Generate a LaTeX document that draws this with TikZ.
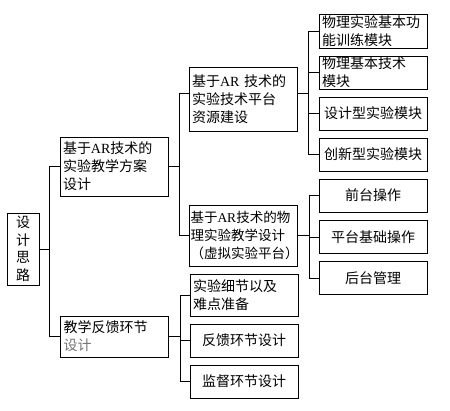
\documentclass[tikz,border=0pt]{standalone}
\usepackage{fontspec}
\setmainfont{Noto Sans CJK SC}
\newfontfamily\latinfont{Liberation Serif}

\begin{document}
\begin{tikzpicture}[x=1pt, y=-1pt,
  box/.style={draw, line width=0.9pt, inner xsep=3pt, inner ysep=0pt,
    text width=102pt, align=left, font=\fontsize{14}{18}\selectfont},
  cbox/.style={box, align=center, minimum height=33pt},
  link/.style={line width=0.9pt}]

  % 画面范围 (按像素坐标, y 向下)
  \useasboundingbox (0,0) rectangle (450,411);

  % 1. 根节点
  \node[box, text width=26pt, align=center, minimum height=72pt,
    font=\fontsize{14}{17.5}\selectfont] (root) at (23,249) {设\\计\\思\\路};

  % 2. 第二层
  \node[box, minimum height=59pt] (A) at (114,166.5)
    {基于{\latinfont AR}技术的\\实验教学方案\\设计};
  \node[box, minimum height=41pt] (B) at (114.5,336.5)
    {教学反馈环节\\\textcolor{black!55}{设计}};

  % 3. 第三层
  \node[box, minimum height=64pt] (C) at (243,99)
    {基于{\latinfont AR} 技术的\\实验技术平台\\资源建设};
  \node[box, minimum height=61pt, inner xsep=1pt, text width=106pt,
    font=\fontsize{13.5}{18}\selectfont] (D) at (243.5,235.5)
    {基于{\latinfont AR}技术的物\\理实验教学设计\\（虚拟实验平台）};
  \node[box, minimum height=42pt] (E) at (244,295) {实验细节以及\\难点准备};
  \node[cbox] (F) at (244,340.5) {反馈环节设计};
  \node[cbox] (G) at (244,381.5) {监督环节设计};

  % 4. 第四层
  \node[box, minimum height=34pt] (H) at (373,31) {物理实验基本功\\能训练模块};
  \node[box, minimum height=33pt] (I) at (373,72.5) {物理基本技术\\模块};
  \node[cbox] (J) at (373,113.5) {设计型实验模块};
  \node[cbox] (K) at (373,154.5) {创新型实验模块};
  \node[cbox] (L) at (373,195.5) {前台操作};
  \node[cbox] (M) at (373,237) {平台基础操作};
  \node[cbox] (N) at (373,278) {后台管理};

  % 5. 连线
  \draw[link] (root.east) -- ++(10,0) coordinate (r0) |- (A.west);
  \draw[link] (r0) |- (B.west);

  \draw[link] (A.east) -- ++(11,0) coordinate (a0) |- ([yshift=6pt]C.west);
  \draw[link] (a0) |- (D.west);
  \draw[link] (B.east) -- ++(11,0) coordinate (b0);
  \foreach \n in {E,F,G} \draw[link] (b0) |- (\n.west);

  \draw[link] ([yshift=6pt]C.east) -- ++(11,0) coordinate (c0);
  \foreach \n in {H,I,J,K} \draw[link] (c0) |- (\n.west);
  \draw[link] (D.east) -- ++(11,0) coordinate (d0);
  \foreach \n in {L,M,N} \draw[link] (d0) |- (\n.west);

\end{tikzpicture}
\end{document}
